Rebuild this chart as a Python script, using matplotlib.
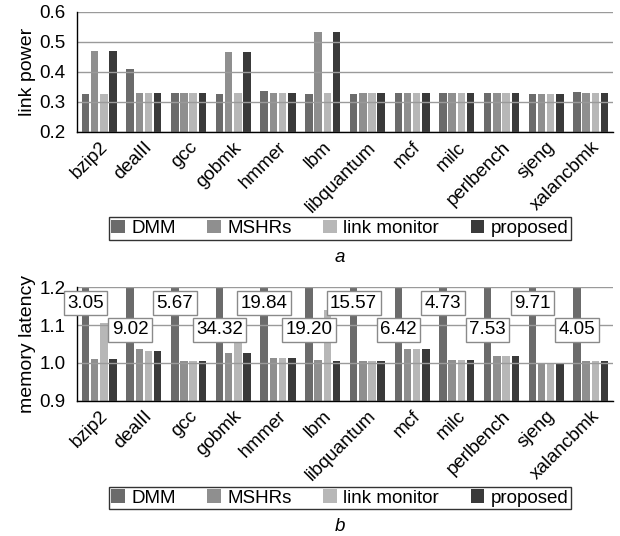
import matplotlib
matplotlib.use("Agg")
import matplotlib.pyplot as plt
import numpy as np

plt.rcParams['font.family'] = ['Liberation Sans', 'DejaVu Sans']

# --- data ---
benchmarks = ['bzip2', 'dealII', 'gcc', 'gobmk', 'hmmer', 'lbm', 'libquantum',
              'mcf', 'milc', 'perlbench', 'sjeng', 'xalancbmk']
series = ['DMM', 'MSHRs', 'link monitor', 'proposed']

power_dmm = [0.327, 0.410, 0.329, 0.326, 0.336, 0.326, 0.326, 0.331, 0.328, 0.329, 0.327, 0.333]
power_mshrs = [0.471, 0.328, 0.328, 0.467, 0.329, 0.533, 0.328, 0.329, 0.328, 0.328, 0.327, 0.328]
power_lm = [0.327, 0.328, 0.328, 0.329, 0.330, 0.329, 0.328, 0.329, 0.328, 0.328, 0.327, 0.328]
power_prop = [0.471, 0.328, 0.328, 0.467, 0.329, 0.533, 0.328, 0.329, 0.328, 0.328, 0.327, 0.328]

lat_dmm = [3.05, 9.02, 5.67, 34.32, 19.84, 19.20, 15.57, 6.42, 4.73, 7.53, 9.71, 4.05]
lat_mshrs = [1.010, 1.037, 1.004, 1.027, 1.013, 1.008, 1.005, 1.037, 1.007, 1.018, 1.001, 1.005]
lat_lm = [1.106, 1.031, 1.004, 1.055, 1.013, 1.140, 1.005, 1.037, 1.007, 1.018, 1.001, 1.005]
lat_prop = [1.010, 1.031, 1.004, 1.027, 1.013, 1.005, 1.005, 1.037, 1.007, 1.018, 1.001, 1.005]

colors = ['#6b6b6b', '#8f8f8f', '#b7b7b7', '#3a3a3a']


def draw_bars(ax, values, ylim, yticks, fmt):
    x = np.arange(len(benchmarks))
    step = 0.206
    width = 0.168
    for k, (vals, c, name) in enumerate(zip(values, colors, series)):
        ax.bar(x + (k - 1.5) * step, vals, width=width, color=c, label=name, zorder=2)
    ax.set_xlim(-0.5, len(benchmarks) - 0.5)
    ax.set_ylim(*ylim)
    ax.set_yticks(yticks)
    ax.set_yticklabels([fmt.format(t) for t in yticks], fontsize=13.5)
    ax.yaxis.grid(True, color='#9a9a9a', linewidth=1.0, zorder=3)
    ax.set_axisbelow(False)
    ax.set_xticks(x)
    ax.set_xticklabels(benchmarks, rotation=45, ha='right', rotation_mode='anchor', fontsize=13.5)
    ax.tick_params(axis='both', length=0)
    ax.tick_params(axis='y', pad=8)
    ax.tick_params(axis='x', pad=5)
    for s in ['top', 'right']:
        ax.spines[s].set_visible(False)
    for s in ['left', 'bottom']:
        ax.spines[s].set_color('black')
        ax.spines[s].set_linewidth(1.0)
    ax.spines['left'].set_zorder(4)
    ax.spines['bottom'].set_zorder(4)


fig = plt.figure(figsize=(6.2, 5.36), dpi=100)
ax1 = fig.add_axes([0.124, 0.754, 0.865, 0.224])
ax2 = fig.add_axes([0.124, 0.2524, 0.865, 0.2116])

draw_bars(ax1, [power_dmm, power_mshrs, power_lm, power_prop], (0.2, 0.6),
          [0.2, 0.3, 0.4, 0.5, 0.6], '{:.1f}')
ax1.set_ylabel('link power', fontsize=14)
ax1.yaxis.set_label_coords(-0.076, 0.5)

draw_bars(ax2, [lat_dmm, lat_mshrs, lat_lm, lat_prop], (0.9, 1.2),
          [0.9, 1.0, 1.1, 1.2], '{:.1f}')
ax2.set_ylabel('memory latency', fontsize=14)
ax2.yaxis.set_label_coords(-0.076, 0.5)

# DMM latency values (bars run off the top)
x = np.arange(len(benchmarks))
for i, v in enumerate(lat_dmm):
    ypos = 1.158 if i % 2 == 0 else 1.088
    ax2.text(x[i] - 1.5 * 0.206, ypos, f'{v:.2f}', ha='center', va='center', fontsize=13.5,
             zorder=5,
             bbox=dict(boxstyle='square,pad=0.18', facecolor='white', edgecolor='#8a8a8a',
                       linewidth=1.0))

for ax, ly, cap, cy in [(ax1, 0.573, 'a', 0.519), (ax2, 0.071, 'b', 0.017)]:
    leg = ax.legend(loc='center', bbox_to_anchor=(0.548, ly), bbox_transform=fig.transFigure,
                    ncol=4, fontsize=13.5, frameon=True, fancybox=False, edgecolor='black',
                    handlelength=0.7, handleheight=0.7, handletextpad=0.35,
                    columnspacing=1.7, borderpad=0.15, borderaxespad=0)
    leg.get_frame().set_linewidth(1.0)
    fig.text(0.548, cy, cap, ha='center', va='center', fontsize=13.5, style='italic')

fig.savefig('out.png', dpi=100)
